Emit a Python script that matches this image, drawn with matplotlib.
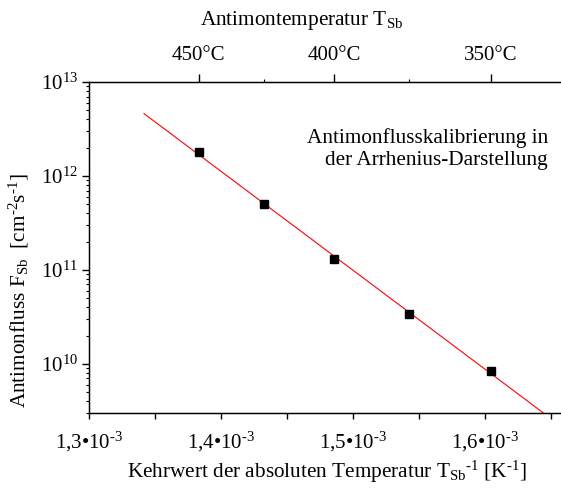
import numpy as np
import matplotlib
matplotlib.use("Agg")
import matplotlib.pyplot as plt
from matplotlib.ticker import FixedLocator, FixedFormatter, LogLocator

plt.rcParams['font.family'] = ['Liberation Serif', 'DejaVu Serif']
plt.rcParams['mathtext.fontset'] = 'custom'
plt.rcParams['mathtext.rm'] = 'Liberation Serif'
plt.rcParams['mathtext.it'] = 'Liberation Serif:italic'
plt.rcParams['font.size'] = 15

# Messpunkte: Antimontemperatur (°C) und Fluss (cm^-2 s^-1)
temp_c = [450, 425, 400, 375, 350]
flux = [1.78e12, 5.07e11, 1.32e11, 3.40e10, 8.3e9]

# Achsen
x_ticks = [1.3e-3, 1.4e-3, 1.5e-3, 1.6e-3]
x_tick_labels = ['1,3•10$^{\\text{-3}}$', '1,4•10$^{\\text{-3}}$',
                 '1,5•10$^{\\text{-3}}$', '1,6•10$^{\\text{-3}}$']
top_major_c = [450, 400, 350]
top_minor_c = [425, 375]
fit_x_start = 1.3415e-3
fit_x_end = 1.68e-3

inv_t = 1.0 / (np.array(temp_c) + 273.15)
coef = np.polyfit(inv_t, np.log10(flux), 1)

fig = plt.figure(figsize=(5.61, 4.88), dpi=100)
ax = fig.add_axes([89.3 / 561, 75 / 488, 501 / 561, 331 / 488])

xf = np.linspace(fit_x_start, fit_x_end, 50)
ax.plot(xf, 10 ** np.polyval(coef, xf), color='red', lw=0.8, zorder=2)
ax.plot(inv_t, flux, 's', color='black', ms=6, zorder=3)

ax.set_yscale('log')
ax.set_xlim(1.3e-3, 1.68e-3)
ax.set_ylim(3e9, 1e13)

ax.xaxis.set_major_locator(FixedLocator(x_ticks))
ax.xaxis.set_major_formatter(FixedFormatter(x_tick_labels))
ax.xaxis.set_minor_locator(FixedLocator(np.array(x_ticks) + 0.5e-4))
ax.yaxis.set_minor_locator(LogLocator(base=10, subs=np.arange(2, 10)))

ax.tick_params(axis='x', which='major', direction='out', length=4, width=1, pad=8)
ax.tick_params(axis='x', which='minor', direction='out', length=4, width=1)
ax.tick_params(axis='y', which='major', direction='out', length=5, width=1, pad=3)
ax.tick_params(axis='y', which='minor', direction='out', length=2.5, width=0.8)
for s in ['left', 'bottom', 'top']:
    ax.spines[s].set_linewidth(1)
ax.spines['right'].set_visible(False)

# obere Achse in °C
ax2 = ax.twiny()
ax2.set_xlim(ax.get_xlim())
ax2.xaxis.set_major_locator(FixedLocator(1.0 / (np.array(top_major_c) + 273.15)))
ax2.xaxis.set_major_formatter(FixedFormatter([f'{t}°C' for t in top_major_c]))
ax2.xaxis.set_minor_locator(FixedLocator(1.0 / (np.array(top_minor_c) + 273.15)))
ax2.tick_params(axis='x', which='major', direction='out', length=6, width=1, pad=6)
ax2.tick_params(axis='x', which='minor', direction='out', length=2.5, width=0.8)
ax2.spines['right'].set_visible(False)

fs = 15.3
ax.text(0.474, -0.178,
        'Kehrwert der absoluten Temperatur T$_{\\mathrm{Sb}}$$^{\\text{-1}}$ [K$^{\\text{-1}}$]',
        transform=ax.transAxes, ha='center', va='center', fontsize=fs)
ax.text(0.4245, 1.185, 'Antimontemperatur T$_{\\mathrm{Sb}}$',
        transform=ax.transAxes, ha='center', va='center', fontsize=fs)
ax.text(-0.14, 0.37, 'Antimonfluss F$_{\\mathrm{Sb}}$  [cm$^{\\text{-2}}$s$^{\\text{-1}}$]',
        transform=ax.transAxes, ha='center', va='center', rotation=90, fontsize=fs)

ax.text((548 - 89.3) / 501, (413 - 149) / 331,
        'Antimonflusskalibrierung in\nder Arrhenius-Darstellung',
        transform=ax.transAxes, ha='right', va='center', multialignment='right',
        fontsize=fs, linespacing=1.25)

fig.savefig('out.png', dpi=100)
